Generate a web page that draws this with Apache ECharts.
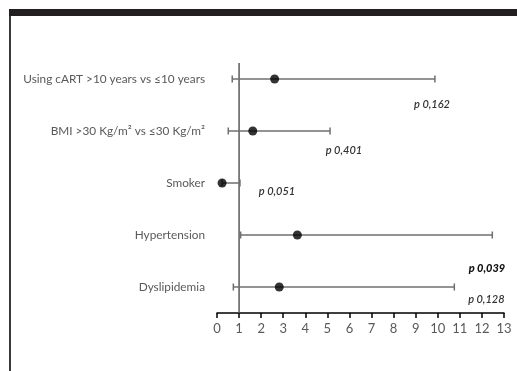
<!DOCTYPE html>
<html><head><meta charset="utf-8">
<script src="https://cdn.jsdelivr.net/npm/echarts@6/dist/echarts.min.js"></script>
<style>html,body{margin:0;padding:0;background:#fff}#c{width:517px;height:371px}</style>
</head><body><div id="c"></div>
<script>
const categories = ['Using cART >10 years vs \u226410 years', 'BMI >30 Kg/m\u00b2 vs \u226430 Kg/m\u00b2', 'Smoker', 'Hypertension', 'Dyslipidemia'];
const oddsRatio = [2.61, 1.62, 0.23, 3.64, 2.82];
const ciLower = [0.69, 0.51, 0.23, 1.07, 0.74];
const ciUpper = [9.87, 5.12, 1.04, 12.47, 10.75];
const pLabels = ['p 0,162', 'p 0,401', 'p 0,051', 'p 0,039', 'p 0,128'];
const pBold = [false, false, false, true, false];
const xTicks = [0,1,2,3,4,5,6,7,8,9,10,11,12,13];
const refValue = 1;

// layout of p-value annotations (value-x, row offset in bands)
const pLayoutX = [9.74, 5.75, 2.72, 12.23, 12.2];
const pLayoutDy = [0.48, 0.37, 0.17, 0.65, 0.23];

const chart = echarts.init(document.getElementById('c'));
const FONT = 'Lato';
chart.setOption({
  animation: false,
  backgroundColor: '#fff',
  graphic: [
    {type:'rect', shape:{x:9, y:9, width:508, height:7}, style:{fill:'#231f20'}},
    {type:'rect', shape:{x:9, y:16, width:2, height:355}, style:{fill:'#3a3a3a'}}
  ],
  grid: {left: 217, right: 13, top: 53, bottom: 58},
  xAxis: {
    type: 'value', min: xTicks[0], max: xTicks[xTicks.length-1], interval: 1,
    axisLine: {show: true, lineStyle: {color: '#000', width: 1.5}},
    axisTick: {show: true, length: 5, lineStyle: {color: '#000', width: 1.5}},
    axisLabel: {color: '#595959', fontSize: 13, fontFamily: FONT, margin: 9},
    splitLine: {show: false}
  },
  yAxis: {
    type: 'category', data: categories, inverse: true,
    axisLine: {show: false}, axisTick: {show: false},
    axisLabel: {color: '#595959', fontSize: 11.8, fontFamily: FONT, margin: 12}
  },
  series: [
    {
      type: 'custom',
      data: [[refValue]],
      renderItem: function (params, api) {
        const top = api.coord([refValue, 0]);
        const cs = params.coordSys;
        return {type: 'line', shape: {x1: top[0], y1: top[1] - 16, x2: top[0], y2: cs.y + cs.height},
          style: {stroke: '#595959', lineWidth: 1.5}};
      },
      z: 1
    },
    {
      type: 'custom',
      data: categories.map((c, i) => [ciLower[i], ciUpper[i], i]),
      renderItem: function (params, api) {
        const i = api.value(2);
        const a = api.coord([api.value(0), i]);
        const b = api.coord([api.value(1), i]);
        const h = 3.5;
        const st = {stroke: '#6f6f6f', lineWidth: 1.5};
        return {type: 'group', children: [
          {type: 'line', shape: {x1: a[0], y1: a[1], x2: b[0], y2: b[1]}, style: st},
          {type: 'line', shape: {x1: a[0], y1: a[1]-h, x2: a[0], y2: a[1]+h}, style: st},
          {type: 'line', shape: {x1: b[0], y1: b[1]-h, x2: b[0], y2: b[1]+h}, style: st}
        ]};
      },
      z: 2
    },
    {
      type: 'scatter',
      data: categories.map((c, i) => [oddsRatio[i], i]),
      symbol: 'circle', symbolSize: 9,
      itemStyle: {color: '#000'},
      z: 3
    },
    {
      type: 'custom',
      data: categories.map((c, i) => [pLayoutX[i], i, pLayoutDy[i]]),
      renderItem: function (params, api) {
        const i = params.dataIndex;
        const p = api.coord([api.value(0), api.value(1)]);
        const band = api.size([0, 1])[1];
        return {type: 'text', x: p[0], y: p[1] + api.value(2) * band,
          style: {text: pLabels[i], fill: pBold[i] ? '#111' : '#333',
            font: 'italic ' + (pBold[i] ? '900' : '600') + ' 11px ' + FONT,
            align: 'center', verticalAlign: 'middle'}};
      },
      z: 4
    }
  ]
});
</script></body></html>
